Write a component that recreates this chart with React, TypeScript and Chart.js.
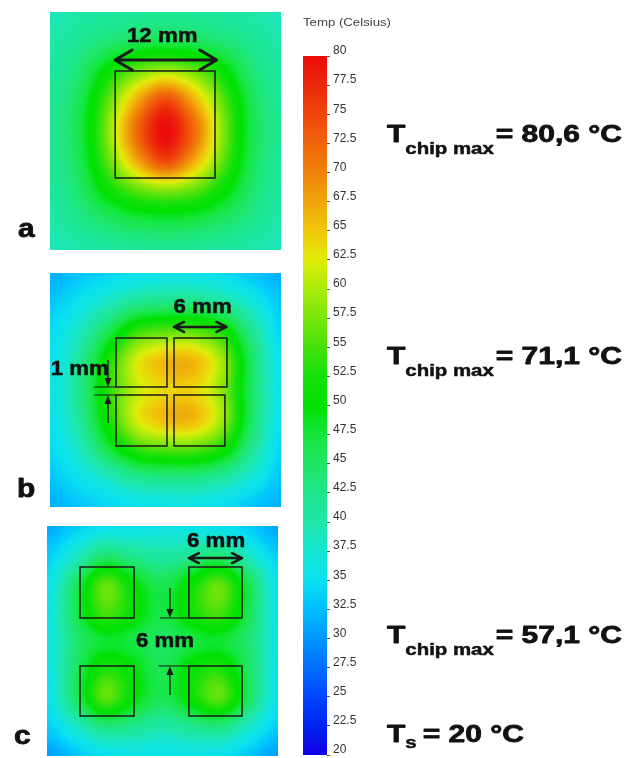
import React, { useEffect, useRef } from "react";
import { Chart, registerables } from "chart.js";

Chart.register(...registerables);

// ---------------- data ----------------
const COLORBAR_TICKS = [20, 22.5, 25, 27.5, 30, 32.5, 35, 37.5, 40, 42.5, 45, 47.5, 50, 52.5, 55, 57.5, 60, 62.5, 65, 67.5, 70, 72.5, 75, 77.5, 80];
const COLORBAR_TITLE = "Temp (Celsius)";
const PANEL_LETTERS = ["a", "b", "c"];
const CHIP_MAX_TEMPS = [80.6, 71.1, 57.1];
const SINK_TEMP = 20;

// colour scale of the legend bar
const CMAP_VALUES = [20, 22.5, 25, 27.5, 30, 32.5, 35, 37.5, 40, 42.5, 45, 47.5, 50, 52.5, 55, 57.5, 60, 62.5, 65, 67.5, 70, 72.5, 75, 77.5, 80];
const CMAP_COLORS: number[][] = [
  [20, 0, 230], [0, 35, 240], [0, 70, 255], [0, 110, 255], [0, 150, 255], [0, 190, 255],
  [10, 225, 240], [20, 230, 210], [30, 230, 170], [30, 230, 140], [30, 230, 100], [20, 230, 60],
  [0, 225, 0], [20, 225, 10], [70, 225, 10], [120, 230, 10], [170, 235, 10], [225, 235, 10],
  [240, 200, 10], [240, 165, 10], [240, 130, 10], [240, 100, 10], [240, 70, 10], [235, 40, 10], [235, 10, 10],
];

// temperature read at grid nodes every 3.5 mm (rows top -> bottom)
const GRID_STEP_MM = 3.5;
const GRID_A = [
  [39, 40, 41, 41.5, 42, 41.5, 41, 40, 39],
  [40, 42, 44, 46, 46.5, 46, 44, 42, 40],
  [41, 44, 51, 57, 60, 57, 51, 44, 41],
  [41.5, 46, 56, 67, 75, 67, 56, 46, 41.5],
  [42, 46.5, 58, 72, 80, 72, 58, 46.5, 42],
  [41.5, 46, 56, 67, 75, 67, 56, 46, 41.5],
  [41, 44.5, 51, 56, 58, 56, 51, 44.5, 41],
  [40, 42.5, 45, 47, 47.5, 47, 45, 42.5, 40],
  [39, 40, 41, 41.5, 42, 41.5, 41, 40, 39],
];
const GRID_B = [
  [31.5, 33, 34, 35, 35.5, 35.5, 34.5, 33, 31.5],
  [33, 35.5, 38.5, 42, 43, 43, 41, 37, 33],
  [34.5, 38.5, 46, 54, 56, 56, 52, 42, 34],
  [35, 41, 52, 62, 66, 66, 59, 45, 35],
  [35.5, 42, 53, 61, 64, 64, 58, 45, 35.5],
  [35, 41, 52, 62, 66, 66, 59, 45, 35],
  [34.5, 38.5, 47, 54, 56, 56, 52, 42, 34],
  [33, 35.5, 38.5, 42, 43, 43, 41, 37, 33],
  [31.5, 33, 34, 35, 35.5, 35.5, 34.5, 33, 31.5],
];
const GRID_C = [
  [31, 33.5, 35, 35.5, 36, 35.5, 35, 33.5, 31],
  [33.5, 38, 44, 42, 40.5, 42, 44, 38, 33.5],
  [35, 45, 56, 50, 46, 51, 56, 46, 35],
  [35.5, 46, 55, 51, 47, 52, 55, 46, 35.5],
  [36, 44, 48, 47, 45, 47, 48, 44, 36],
  [35.5, 45, 53, 50, 46, 51, 53, 45, 35.5],
  [35, 45, 56, 50, 46, 51, 56, 45, 35],
  [33.5, 38, 43, 42, 40, 42, 43, 38, 33.5],
  [30.5, 33, 35, 35.5, 35.5, 35.5, 35, 33, 30.5],
];

// chips [x0, x1, y0, y1] in mm
const CHIPS_A = [[7.9, 20.0, 6.94, 19.53]];
const CHIPS_B = [[8.0, 14.18, 7.78, 13.64], [15.03, 21.45, 7.78, 13.64], [8.0, 14.18, 14.6, 20.7], [15.03, 21.2, 14.6, 20.7]];
const CHIPS_C = [[4.0, 10.55, 4.99, 11.2], [17.2, 23.64, 4.99, 11.2], [4.0, 10.55, 17.04, 23.13], [17.2, 23.64, 17.04, 23.13]];

// double arrows [x0, x1, y]
const ARROWS_A = [[7.9, 20.2, 5.65]];
const ARROWS_B = [[15.03, 21.4, 6.46]];
const ARROWS_C = [[17.2, 23.64, 3.9]];

// dimension lines [x0, x1, y]
const DIMS_B = [[5.33, 8.0, 13.64], [5.33, 8.0, 14.6]];
const DIMS_C = [[13.7, 17.2, 11.2], [13.5, 17.2, 17.04]];

// single arrows [x, yFrom, yTip]
const VARROWS_B = [[7.03, 10.4, 13.64], [7.03, 17.95, 14.6]];
const VARROWS_C = [[14.9, 7.55, 11.2], [14.9, 20.57, 17.04]];

// labels [text, x, y]
const LABELS_A: [string, number, number][] = [["12 mm", 13.6, 3.5]];
const LABELS_B: [string, number, number][] = [["6 mm", 18.5, 4.8], ["1 mm", 3.6, 12.2]];
const LABELS_C: [string, number, number][] = [["6 mm", 20.5, 2.56], ["6 mm", 14.3, 14.73]];

// ---------------- helpers ----------------
const FONT = '"Liberation Sans", Arial, Helvetica, sans-serif';

function colorFor(v: number): number[] {
  const n = CMAP_VALUES.length;
  if (v <= CMAP_VALUES[0]) return CMAP_COLORS[0];
  if (v >= CMAP_VALUES[n - 1]) return CMAP_COLORS[n - 1];
  let i = 0;
  while (v > CMAP_VALUES[i + 1]) i++;
  const t = (v - CMAP_VALUES[i]) / (CMAP_VALUES[i + 1] - CMAP_VALUES[i]);
  const a = CMAP_COLORS[i], b = CMAP_COLORS[i + 1];
  return [a[0] + (b[0] - a[0]) * t, a[1] + (b[1] - a[1]) * t, a[2] + (b[2] - a[2]) * t];
}

function cr(p0: number, p1: number, p2: number, p3: number, t: number) {
  return 0.5 * (2 * p1 + (-p0 + p2) * t + (2 * p0 - 5 * p1 + 4 * p2 - p3) * t * t + (-p0 + 3 * p1 - 3 * p2 + p3) * t * t * t);
}

function sampleGrid(grid: number[][], gx: number, gy: number) {
  const rows = grid.length, cols = grid[0].length;
  const cx = Math.min(Math.max(gx, 0), cols - 1), cy = Math.min(Math.max(gy, 0), rows - 1);
  let ix = Math.floor(cx), iy = Math.floor(cy);
  if (ix > cols - 2) ix = cols - 2;
  if (iy > rows - 2) iy = rows - 2;
  const tx = cx - ix, ty = cy - iy;
  const at = (r: number, c: number) => grid[Math.min(Math.max(r, 0), rows - 1)][Math.min(Math.max(c, 0), cols - 1)];
  const rv: number[] = [];
  for (let k = -1; k <= 2; k++) {
    const r = iy + k;
    rv.push(cr(at(r, ix - 1), at(r, ix), at(r, ix + 1), at(r, ix + 2), tx));
  }
  return cr(rv[0], rv[1], rv[2], rv[3], ty);
}

function drawText(ctx: CanvasRenderingContext2D, text: string, x: number, y: number, size: number, scaleX: number, weight = "bold", align: CanvasTextAlign = "left", color = "#111", stroke = 0) {
  ctx.save();
  ctx.font = `${weight} ${size}px ${FONT}`;
  ctx.fillStyle = color;
  ctx.strokeStyle = color;
  ctx.textAlign = align;
  ctx.textBaseline = "alphabetic";
  ctx.translate(x, y);
  ctx.scale(scaleX, 1);
  ctx.fillText(text, 0, 0);
  if (stroke > 0) {
    ctx.lineWidth = stroke;
    ctx.lineJoin = "round";
    ctx.strokeText(text, 0, 0);
  }
  const w = ctx.measureText(text).width * scaleX;
  ctx.restore();
  return w;
}

const fmt = (v: number) => v.toFixed(1).replace(".", ",");

type Panel = {
  key: string;
  grid: number[][];
  chips: number[][];
  arrows: number[][];
  dims: number[][];
  vArrows: number[][];
  labels: [string, number, number][];
  left: number; top: number; width: number; height: number;
  big: boolean;
};

const PANELS: Panel[] = [
  { key: "a", grid: GRID_A, chips: CHIPS_A, arrows: ARROWS_A, dims: [], vArrows: [], labels: LABELS_A, left: 50, top: 12, width: 231, height: 238, big: true },
  { key: "b", grid: GRID_B, chips: CHIPS_B, arrows: ARROWS_B, dims: DIMS_B, vArrows: VARROWS_B, labels: LABELS_B, left: 50, top: 273, width: 231, height: 234, big: false },
  { key: "c", grid: GRID_C, chips: CHIPS_C, arrows: ARROWS_C, dims: DIMS_C, vArrows: VARROWS_C, labels: LABELS_C, left: 47, top: 526, width: 231, height: 230, big: false },
];

function makePanelPlugin(p: Panel) {
  return {
    id: "panel_" + p.key,
    beforeDatasetsDraw(chart: any) {
      const ctx: CanvasRenderingContext2D = chart.ctx;
      const xs = chart.scales.x, ys = chart.scales.y;
      const { left, top, right, bottom } = chart.chartArea;
      const w = Math.round(right - left), h = Math.round(bottom - top);
      const img = ctx.createImageData(w, h);
      const gxs: number[] = [];
      for (let i = 0; i < w; i++) gxs.push(xs.getValueForPixel(left + i + 0.5) / GRID_STEP_MM);
      for (let j = 0; j < h; j++) {
        const gy = ys.getValueForPixel(top + j + 0.5) / GRID_STEP_MM;
        for (let i = 0; i < w; i++) {
          const c = colorFor(sampleGrid(p.grid, gxs[i], gy));
          const o = (j * w + i) * 4;
          img.data[o] = c[0]; img.data[o + 1] = c[1]; img.data[o + 2] = c[2]; img.data[o + 3] = 255;
        }
      }
      ctx.putImageData(img, left, top);
    },
    afterDatasetsDraw(chart: any) {
      const ctx: CanvasRenderingContext2D = chart.ctx;
      const xs = chart.scales.x, ys = chart.scales.y;
      const X = (v: number) => xs.getPixelForValue(v);
      const Y = (v: number) => ys.getPixelForValue(v);
      ctx.save();
      // chips
      ctx.strokeStyle = "#1a1a1a";
      ctx.lineWidth = 1.5;
      for (const c of p.chips) {
        const x0 = X(c[0]), x1 = X(c[1]), y0 = Y(c[2]), y1 = Y(c[3]);
        ctx.strokeRect(x0, y0, x1 - x0, y1 - y0);
      }
      // dimension lines
      ctx.lineWidth = 1;
      for (const d of p.dims) {
        ctx.beginPath();
        ctx.moveTo(X(d[0]), Y(d[2]));
        ctx.lineTo(X(d[1]), Y(d[2]));
        ctx.stroke();
      }
      // single arrows
      ctx.fillStyle = "#1a1a1a";
      for (const a of p.vArrows) {
        const x = X(a[0]), yf = Y(a[1]), yt = Y(a[2]);
        const dir = Math.sign(yt - yf);
        ctx.lineWidth = 1.4;
        ctx.beginPath();
        ctx.moveTo(x, yf);
        ctx.lineTo(x, yt - dir * 6);
        ctx.stroke();
        ctx.beginPath();
        ctx.moveTo(x, yt);
        ctx.lineTo(x - 3.5, yt - dir * 9);
        ctx.lineTo(x + 3.5, yt - dir * 9);
        ctx.closePath();
        ctx.fill();
      }
      // double arrows
      const lw = p.big ? 3 : 2.5, hx = p.big ? 17 : 10, hy = p.big ? 10 : 5;
      ctx.lineWidth = lw;
      ctx.lineCap = "round";
      ctx.lineJoin = "round";
      for (const a of p.arrows) {
        const x0 = X(a[0]), x1 = X(a[1]), y = Y(a[2]);
        ctx.beginPath();
        ctx.moveTo(x0, y); ctx.lineTo(x1, y);
        ctx.moveTo(x0 + hx, y - hy); ctx.lineTo(x0, y); ctx.lineTo(x0 + hx, y + hy);
        ctx.moveTo(x1 - hx, y - hy); ctx.lineTo(x1, y); ctx.lineTo(x1 - hx, y + hy);
        ctx.stroke();
      }
      ctx.restore();
      // labels
      for (const l of p.labels) drawText(ctx, l[0], X(l[1]), Y(l[2]), 21, 1.06, "bold", "center", "#111", 0.5);
    },
  };
}

function PanelChart({ p }: { p: Panel }) {
  const ref = useRef<HTMLCanvasElement>(null);
  useEffect(() => {
    if (!ref.current) return;
    const chart = new Chart(ref.current, {
      type: "scatter",
      data: { datasets: [] },
      options: {
        responsive: false,
        animation: false,
        devicePixelRatio: 1,
        layout: { padding: 0 },
        plugins: { legend: { display: false }, tooltip: { enabled: false }, title: { display: false } },
        scales: {
          x: { type: "linear", min: 0, max: 28, display: false },
          y: { type: "linear", min: 0, max: 28, reverse: true, display: false },
        },
      },
      plugins: [makePanelPlugin(p)],
    } as any);
    return () => chart.destroy();
  }, [p]);
  return (
    <canvas
      ref={ref}
      width={p.width}
      height={p.height}
      style={{ position: "absolute", left: p.left, top: p.top, width: p.width, height: p.height }}
    />
  );
}

const mainPlugin = {
  id: "colorbarAndText",
  beforeDatasetsDraw(chart: any) {
    const ctx: CanvasRenderingContext2D = chart.ctx;
    const ys = chart.scales.y;
    const { left, right, top, bottom } = chart.chartArea;
    for (let y = Math.floor(top); y < Math.ceil(bottom); y++) {
      const c = colorFor(ys.getValueForPixel(y + 0.5));
      ctx.fillStyle = `rgb(${Math.round(c[0])},${Math.round(c[1])},${Math.round(c[2])})`;
      ctx.fillRect(left, y, right - left, 1);
    }
  },
  afterDraw(chart: any) {
    const ctx: CanvasRenderingContext2D = chart.ctx;
    // colour bar title
    drawText(ctx, COLORBAR_TITLE, 303, 26, 11, 1.2, "normal", "left", "#444");
    // panel letters
    const letterPos = [[18, 237], [17, 497], [14, 744]];
    PANEL_LETTERS.forEach((l, i) => drawText(ctx, l, letterPos[i][0], letterPos[i][1], 26, 1.15, "bold", "left", "#111", 0.8));
    // chip max annotations
    const baselines = [142, 364, 643];
    CHIP_MAX_TEMPS.forEach((t, i) => {
      let x = 387;
      const y = baselines[i];
      x += drawText(ctx, "T", x, y, 24, 1.25, "bold", "left", "#111", 0.8);
      x += drawText(ctx, "chip max", x, y + 12, 17, 1.2, "bold", "left", "#111", 0.5) + 2;
      drawText(ctx, `= ${fmt(t)} °C`, x, y, 24, 1.25, "bold", "left", "#111", 0.8);
    });
    // sink temperature
    let x = 387;
    x += drawText(ctx, "T", x, 742, 24, 1.25, "bold", "left", "#111", 0.8);
    x += drawText(ctx, "s", x, 748, 17, 1.2, "bold", "left", "#111", 0.5) + 6;
    drawText(ctx, `= ${SINK_TEMP} °C`, x, 742, 24, 1.25, "bold", "left", "#111", 0.8);
  },
};

function ColorbarChart() {
  const ref = useRef<HTMLCanvasElement>(null);
  useEffect(() => {
    if (!ref.current) return;
    const chart = new Chart(ref.current, {
      type: "scatter",
      data: { datasets: [] },
      options: {
        responsive: false,
        animation: false,
        devicePixelRatio: 1,
        layout: { padding: { left: 303, right: 267, top: 56, bottom: 15 } },
        plugins: { legend: { display: false }, tooltip: { enabled: false }, title: { display: false } },
        scales: {
          x: { type: "linear", min: 0, max: 1, display: false },
          y: {
            type: "linear",
            position: "right",
            min: COLORBAR_TICKS[0],
            max: COLORBAR_TICKS[COLORBAR_TICKS.length - 1],
            afterFit: (s: any) => { s.width = 40; },
            afterBuildTicks: (s: any) => { s.ticks = COLORBAR_TICKS.map((v) => ({ value: v })); },
            border: { display: false },
            grid: { display: true, drawOnChartArea: false, drawTicks: true, tickLength: 3, color: "#555", lineWidth: 1 },
            ticks: {
              autoSkip: false,
              padding: 3,
              labelOffset: -5,
              color: "#333",
              font: { family: FONT, size: 12 },
              callback: (v: any) => String(v),
            },
          },
        },
      },
      plugins: [mainPlugin],
    } as any);
    return () => chart.destroy();
  }, []);
  return <canvas ref={ref} width={634} height={770} style={{ position: "absolute", left: 0, top: 0, width: 634, height: 770 }} />;
}

export default function App() {
  return (
    <div style={{ position: "fixed", left: 0, top: 0, width: 634, height: 758, background: "#fff", overflow: "hidden" }}>
      <ColorbarChart />
      {PANELS.map((p) => (
        <PanelChart key={p.key} p={p} />
      ))}
    </div>
  );
}
